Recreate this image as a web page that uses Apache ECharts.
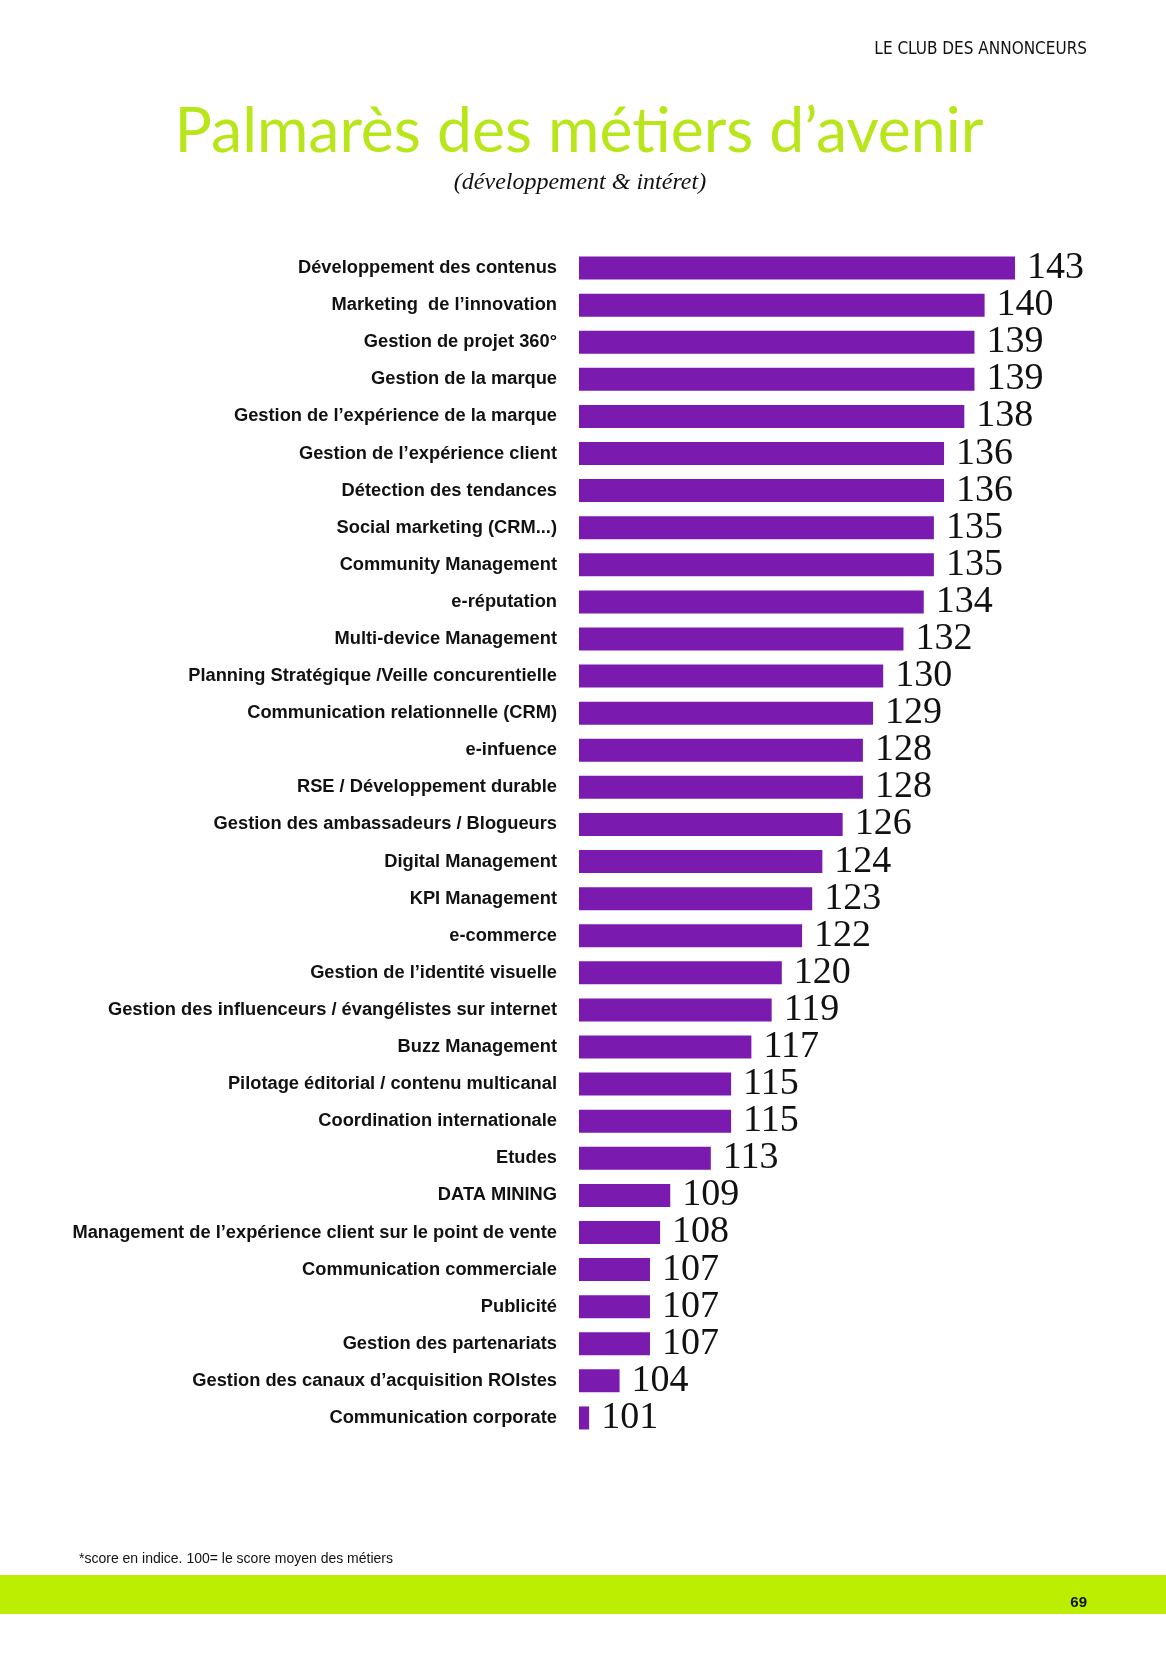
<!DOCTYPE html>
<html>
<head>
<meta charset="utf-8">
<script src="https://cdn.jsdelivr.net/npm/echarts@6/dist/echarts.min.js"></script>
<style>
html,body{margin:0;padding:0;background:#fff;}
#chart{width:1166px;height:1654px;}
</style>
</head>
<body>
<div id="chart"></div>
<script>
const categories = [
  "Développement des contenus",
  "Marketing  de l’innovation",
  "Gestion de projet 360°",
  "Gestion de la marque",
  "Gestion de l’expérience de la marque",
  "Gestion de l’expérience client",
  "Détection des tendances",
  "Social marketing (CRM...)",
  "Community Management",
  "e-réputation",
  "Multi-device Management",
  "Planning Stratégique /Veille concurentielle",
  "Communication relationnelle (CRM)",
  "e-infuence",
  "RSE / Développement durable",
  "Gestion des ambassadeurs / Blogueurs",
  "Digital Management",
  "KPI Management",
  "e-commerce",
  "Gestion de l’identité visuelle",
  "Gestion des influenceurs / évangélistes sur internet",
  "Buzz Management",
  "Pilotage éditorial / contenu multicanal",
  "Coordination internationale",
  "Etudes",
  "DATA MINING",
  "Management de l’expérience client sur le point de vente",
  "Communication commerciale",
  "Publicité",
  "Gestion des partenariats",
  "Gestion des canaux d’acquisition ROIstes",
  "Communication corporate"
];
const scores = [143,140,139,139,138,136,136,135,135,134,132,130,129,128,128,126,124,123,122,120,119,117,115,115,113,109,108,107,107,107,104,101];

const headerText = "LE CLUB DES ANNONCEURS";
const titleText = "Palmarès des métiers d’avenir";
const subtitleText = "(développement & intéret)";
const footnoteText = "*score en indice. 100= le score moyen des métiers";
const pageNumber = "69";

const chart = echarts.init(document.getElementById('chart'), null, {renderer:'canvas'});
const option = {
  backgroundColor: '#ffffff',
  animation: false,
  grid: {left: 579, right: 80, top: 249.5, height: 1187, containLabel: false},
  xAxis: {type: 'value', min: 100, max: 150, show: false},
  yAxis: {
    type: 'category', data: categories, inverse: true,
    axisLine: {show: false}, axisTick: {show: false},
    axisLabel: {
      margin: 22, color: '#111', fontFamily: 'Liberation Sans, Arial, sans-serif',
      fontWeight: 'bold', fontSize: 18.3
    }
  },
  series: [{
    type: 'bar', data: scores, barWidth: 23,
    itemStyle: {color: '#7a1aae'},
    label: {
      show: true, position: 'right', distance: 12,
      fontFamily: 'Liberation Serif, Times New Roman, serif',
      fontSize: 38, color: '#111'
    }
  }],
  graphic: [
    {type: 'rect', left: 0, top: 1575, shape: {width: 1166, height: 39}, style: {fill: '#bbee00'}},
    {type: 'text', x: 1087, y: 50, style: {text: headerText, align: 'right', verticalAlign: 'middle',
      font: '17px "DejaVu Sans Condensed", "Liberation Sans", sans-serif', fill: '#111'}},
    {type: 'text', x: 579, y: 132, style: {text: titleText, align: 'center', verticalAlign: 'middle',
      font: '62.5px Lato, "Noto Sans", sans-serif', fill: '#b8e61a'}},
    {type: 'text', x: 580, y: 183, style: {text: subtitleText, align: 'center', verticalAlign: 'middle',
      font: 'italic 24px "Liberation Serif", serif', fill: '#111'}},
    {type: 'text', x: 79, y: 1559, style: {text: footnoteText, align: 'left', verticalAlign: 'middle',
      font: '14px "Liberation Sans", Arial, sans-serif', fill: '#111'}},
    {type: 'text', x: 1087, y: 1603, style: {text: pageNumber, align: 'right', verticalAlign: 'middle',
      font: 'bold 15px "Liberation Sans", Arial, sans-serif', fill: '#111'}}
  ]
};
chart.setOption(option);
</script>
</body>
</html>
